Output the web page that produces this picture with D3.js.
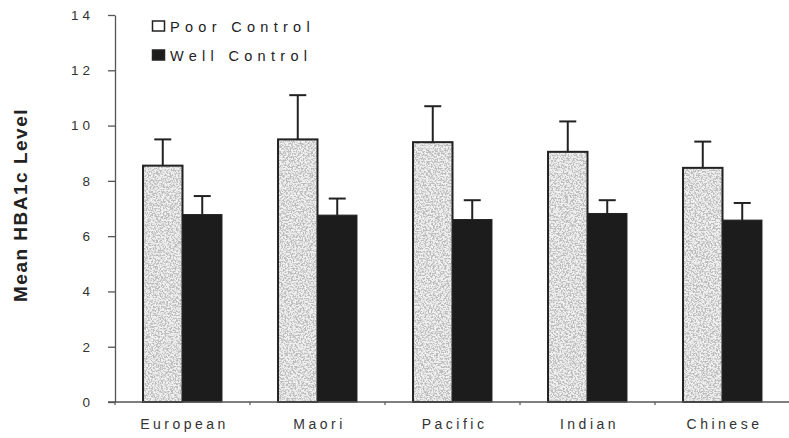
<!DOCTYPE html>
<html>
<head>
<meta charset="utf-8">
<script src="https://cdn.jsdelivr.net/npm/d3@7/dist/d3.min.js"></script>
<style>
  html, body { margin: 0; padding: 0; background: #fff; }
  svg { display: block; font-family: Arial, "Liberation Sans", Helvetica, sans-serif; }
</style>
</head>
<body>
<svg id="chart" width="789" height="438"></svg>
<script>
// Mean HbA1c by ethnic group, split by glycaemic control status
const categories = ["European", "Maori", "Pacific", "Indian", "Chinese"];
const seriesNames = ["Poor Control", "Well Control"];
const poorMean = [8.55, 9.5, 9.4, 9.05, 8.47];
const poorSD   = [0.95, 1.6, 1.3, 1.1, 0.95];
const wellMean = [6.78, 6.76, 6.6, 6.82, 6.58];
const wellSD   = [0.67, 0.6, 0.7, 0.48, 0.62];
const yTicks   = [0, 2, 4, 6, 8, 10, 12, 14];
const yTitle   = "Mean HBA1c Level";

const svg = d3.select("#chart");
const ink = "#222";

const x0 = d3.scaleBand().domain(categories).range([115, 790]).padding(0);
const x1 = d3.scaleBand().domain(seriesNames).range([0, x0.bandwidth()])
  .paddingInner(0).paddingOuter(0.71);
const y = d3.scaleLinear().domain([0, 14]).range([402, 15]);

// stipple texture for the light bars
const defs = svg.append("defs");
const f = defs.append("filter").attr("id", "stipple")
  .attr("x", 0).attr("y", 0).attr("width", 1).attr("height", 1);
f.append("feTurbulence").attr("type", "fractalNoise")
  .attr("baseFrequency", "0.6").attr("numOctaves", 3).attr("seed", 7).attr("result", "noise");
f.append("feColorMatrix").attr("in", "noise").attr("type", "matrix")
  .attr("values", "0 0 0 0 0.5  0 0 0 0 0.5  0 0 0 0 0.5  5 0 0 0 -2.1")
  .attr("result", "dots");
f.append("feFlood").attr("flood-color", "#f1f1f1").attr("result", "bg");
f.append("feComposite").attr("in", "dots").attr("in2", "bg").attr("operator", "over").attr("result", "tex");
f.append("feComposite").attr("in", "tex").attr("in2", "SourceGraphic").attr("operator", "in");

const rows = categories.map((c, i) => [
  { cat: c, s: seriesNames[0], v: poorMean[i], sd: poorSD[i] },
  { cat: c, s: seriesNames[1], v: wellMean[i], sd: wellSD[i] }
]).flat();

// y axis
const yAxis = d3.axisLeft(y).tickValues(yTicks).tickSize(7).tickPadding(14).tickSizeOuter(0);
const gy = svg.append("g").attr("transform", "translate(115,0)").call(yAxis);
gy.select(".domain").attr("stroke", "#555").attr("stroke-width", 1.3);
gy.selectAll(".tick line").attr("stroke", "#555").attr("stroke-width", 1.3);
gy.selectAll(".tick text").attr("fill", "#333").attr("font-size", 13.5)
  .attr("letter-spacing", "4px");

// bars
const g = svg.append("g");
rows.forEach(d => {
  const bx = x0(d.cat) + x1(d.s);
  const bw = x1.bandwidth();
  const top = y(d.v);
  const h = y(0) - top;
  // upper error bar
  const cx = bx + bw / 2;
  g.append("line").attr("x1", cx).attr("x2", cx)
    .attr("y1", top).attr("y2", y(d.v + d.sd))
    .attr("stroke", ink).attr("stroke-width", 2);
  g.append("line").attr("x1", cx - 8.5).attr("x2", cx + 8.5)
    .attr("y1", y(d.v + d.sd)).attr("y2", y(d.v + d.sd))
    .attr("stroke", ink).attr("stroke-width", 2);
  if (d.s === seriesNames[0]) {
    g.append("rect").attr("x", bx).attr("y", top).attr("width", bw).attr("height", h)
      .attr("fill", "#fff").attr("filter", "url(#stipple)");
    g.append("rect").attr("x", bx).attr("y", top).attr("width", bw).attr("height", h)
      .attr("fill", "none").attr("stroke", ink).attr("stroke-width", 2);
  } else {
    g.append("rect").attr("x", bx).attr("y", top).attr("width", bw).attr("height", h)
      .attr("fill", "#1c1c1c").attr("stroke", ink).attr("stroke-width", 1);
  }
});

// x axis
const xAxis = d3.axisBottom(x0).tickSize(0).tickPadding(0);
const gx = svg.append("g").attr("transform", `translate(0,${y(0)})`).call(xAxis);
gx.select(".domain").attr("stroke", "#555").attr("stroke-width", 1.3)
  .attr("d", `M108,0H789`);
gx.selectAll(".tick text").attr("fill", "#333").attr("font-size", 14)
  .attr("letter-spacing", "3.5px").attr("dy", 0).attr("y", 27).attr("dx", 2);
// boundary ticks between categories
const bounds = categories.map(c => x0(c)).concat([x0.range()[1]]);
gx.selectAll(".bound").data(bounds).join("line").attr("class", "bound")
  .attr("x1", d => d).attr("x2", d => d).attr("y1", 0).attr("y2", 3)
  .attr("stroke", "#555").attr("stroke-width", 1.2);

// y title
svg.append("text")
  .attr("transform", `translate(27,${205}) rotate(-90)`)
  .attr("text-anchor", "middle").attr("font-weight", "bold")
  .attr("font-size", 19).attr("letter-spacing", "1.5px").attr("fill", "#222")
  .text(yTitle);

// legend
const leg = svg.append("g").attr("transform", "translate(152,20)");
seriesNames.forEach((s, i) => {
  const row = leg.append("g").attr("transform", `translate(0,${i * 29})`);
  row.append("rect").attr("x", 0.5).attr("y", 1).attr("width", 12).attr("height", 10)
    .attr("fill", i === 0 ? "#fff" : "#1c1c1c").attr("stroke", ink).attr("stroke-width", 1.5);
  row.append("text").attr("x", 18).attr("y", 11.5)
    .attr("font-size", 14.5).attr("letter-spacing", "5.3px").attr("fill", "#222")
    .text(s);
});
</script>
</body>
</html>
